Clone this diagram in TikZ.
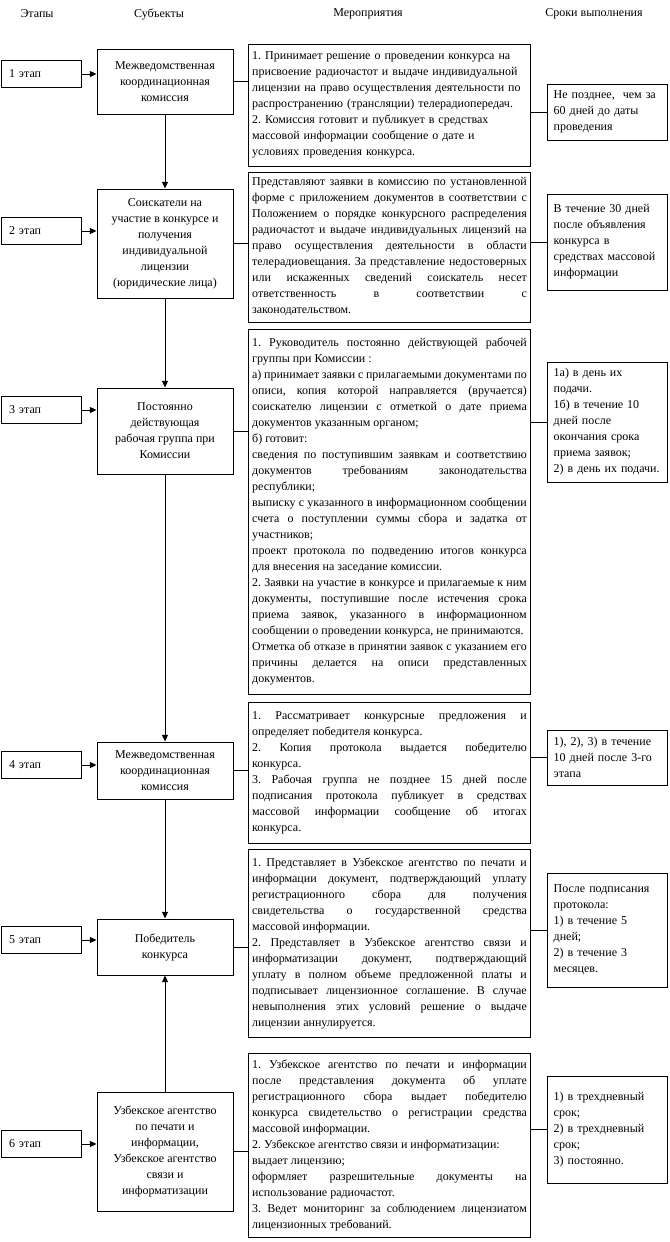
\documentclass[tikz,border=0pt]{standalone}
\usepackage{fontspec}
\setmainfont{Liberation Serif}
\usetikzlibrary{arrows.meta,positioning,calc}
\frenchspacing
\tikzset{
  basefont/.style={font=\fontsize{9}{12}\selectfont},
  tall/.style={minimum height=#1*0.75pt},
  head/.style={basefont,inner sep=1pt},
  stagebox/.style={draw,line width=.75pt,basefont,text width=48pt,align=left,
    inner xsep=6pt,minimum height=20.25pt},
  subj/.style={draw,line width=.75pt,basefont,align=center,minimum width=102pt,
    inner sep=2pt},
  act/.style={draw,line width=.75pt,basefont,text width=206pt,align=justify,
    inner xsep=3.1pt,inner ysep=2pt},
  term/.style={draw,line width=.75pt,basefont,text width=80pt,align=left,
    inner xsep=5pt,inner ysep=2pt},
  flow/.style={-{Triangle[length=5pt,width=4.5pt]},line width=.75pt},
  link/.style={line width=.75pt}
}

\begin{document}
\begin{tikzpicture}[x=0.75pt,y=-0.75pt]
  \useasboundingbox (0,0) rectangle (669,1242);
  % column heads
  \foreach \x/\txt/\name in {37/Этапы/hStage,159/Субъекты/hSubj,
    368/Мероприятия/hAct,594/Сроки выполнения/hTerm}
    \node[head] (\name) at (\x,14) {\txt};
  % stages
  \foreach \i/\y in {1/74,2/231,3/410,4/765,5/940,6/1144}
    \node[stagebox] (st\i) at (41,\y) {\i{} этап};
  % subjects
  \node[subj,tall=65] (sb1) at (165,81.5) {Межведомственная\\координационная\\комиссия};
  \node[subj,tall=109] (sb2) at (165,243.5) {Соискатели на\\участие в конкурсе и\\получения\\индивидуальной\\лицензии\\(юридические лица)};
  \node[subj,tall=86] (sb3) at (165,431) {Постоянно\\действующая\\рабочая группа при\\Комиссии};
  \node[subj,tall=57] (sb4) at (165,770.5) {Межведомственная\\координационная\\комиссия};
  \node[subj,tall=56] (sb5) at (165,947) {Победитель\\конкурса};
  \node[subj,tall=119] (sb6) at (165,1151.5) {Узбекское агентство\\по печати и\\информации,\\Узбекское агентство\\связи и\\информатизации};
  % measures
  \node[act,align=left,tall=122] (ac1) at (389.5,105) {1. Принимает решение о проведении конкурса на\\
    присвоение радиочастот и выдаче индивидуальной\\
    лицензии на право осуществления деятельности по\\
    распространению (трансляции) телерадиопередач.\\
    2. Комиссия готовит и публикует в средствах\\
    массовой информации сообщение о дате и\\
    условиях проведения конкурса.};
  \node[act,tall=150] (ac2) at (389.5,247) {Представляют заявки в комиссию по установленной\linebreak
    форме с приложением документов в соответствии с\linebreak
    Положением о порядке конкурсного распределения\linebreak
    радиочастот и выдаче индивидуальных лицензий на\linebreak
    право осуществления деятельности в области\linebreak
    телерадиовещания. За представление недостоверных\linebreak
    или искаженных сведений соискатель несет\linebreak
    ответственность в соответствии с\linebreak
    законодательством.};
  \node[act,tall=365] (ac3) at (389.5,511.5) {1. Руководитель постоянно действующей рабочей\linebreak
    группы при Комиссии :\\
    а) принимает заявки с прилагаемыми документами по\linebreak
    описи, копия которой направляется (вручается)\linebreak
    соискателю лицензии с отметкой о дате приема\linebreak
    документов указанным органом;\\
    б) готовит:\\
    сведения по поступившим заявкам и соответствию\linebreak
    документов требованиям законодательства\linebreak
    республики;\\
    выписку с указанного в информационном сообщении\linebreak
    счета о поступлении суммы сбора и задатка от\linebreak
    участников;\\
    проект протокола по подведению итогов конкурса\linebreak
    для внесения на заседание комиссии.\\
    2. Заявки на участие в конкурсе и прилагаемые к ним\linebreak
    документы, поступившие после истечения срока\linebreak
    приема заявок, указанного в информационном\linebreak
    сообщении о проведении конкурса, не принимаются.\\
    Отметка об отказе в принятии заявок с указанием его\linebreak
    причины делается на описи представленных\linebreak
    документов.};
  \node[act,tall=141] (ac4) at (389.5,772.5) {1. Рассматривает конкурсные предложения и\linebreak
    определяет победителя конкурса.\\
    2. Копия протокола выдается победителю\linebreak
    конкурса.\\
    3. Рабочая группа не позднее 15 дней после\linebreak
    подписания протокола публикует в средствах\linebreak
    массовой информации сообщение об итогах\linebreak
    конкурса.};
  \node[act,tall=188] (ac5) at (389.5,943) {1. Представляет в Узбекское агентство по печати и\linebreak
    информации документ, подтверждающий уплату\linebreak
    регистрационного сбора для получения\linebreak
    свидетельства о государственной средства\linebreak
    массовой информации.\\
    2. Представляет в Узбекское агентство связи и\linebreak
    информатизации документ, подтверждающий\linebreak
    уплату в полном объеме предложенной платы и\linebreak
    подписывает лицензионное соглашение. В случае\linebreak
    невыполнения этих условий решение о выдаче\linebreak
    лицензии аннулируется.};
  \node[act,tall=184] (ac6) at (389.5,1145) {1. Узбекское агентство по печати и информации\linebreak
    после представления документа об уплате\linebreak
    регистрационного сбора выдает победителю\linebreak
    конкурса свидетельство о регистрации средства\linebreak
    массовой информации.\\
    2. Узбекское агентство связи и информатизации:\\
    выдает лицензию;\\
    оформляет разрешительные документы на\linebreak
    использование радиочастот.\\
    3. Ведет мониторинг за соблюдением лицензиатом\linebreak
    лицензионных требований.};
  % terms
  \node[term,tall=56] (dl1) at (607,112) {Не позднее, \ чем за\\60 дней до даты\\проведения};
  \node[term,tall=96] (dl2) at (607,242) {В течение 30 дней\\после объявления\\конкурса в\\средствах массовой\\информации};
  \node[term,tall=120] (dl3) at (607,422) {1а) в день их\\подачи.\\1б) в течение 10\\дней после\\окончания срока\\приема заявок;\\2) в день их подачи.};
  \node[term,tall=55] (dl4) at (607,757.5) {1), 2), 3) в течение\\10 дней после 3-го\\этапа};
  \node[term,tall=114] (dl5) at (607,930) {После подписания\\протокола:\\1) в течение 5\\дней;\\2) в течение 3\\месяцев.};
  \node[term,tall=107] (dl6) at (607,1129.5) {1) в трехдневный\\срок;\\2) в трехдневный\\срок;\\3) постоянно.};
  % connectors
  \foreach \i in {1,...,6}{
    \draw[flow] (st\i.east) -- (st\i.east -| sb\i.west);
    \draw[link] (sb\i.east) -- (sb\i.east -| ac\i.west);
    \draw[link] (dl\i.west) -- (dl\i.west -| ac\i.east);
  }
  \foreach \a/\b in {1/2,2/3,3/4,4/5,6/5}
    \draw[flow] (sb\a) -- (sb\b);
\end{tikzpicture}
\end{document}
